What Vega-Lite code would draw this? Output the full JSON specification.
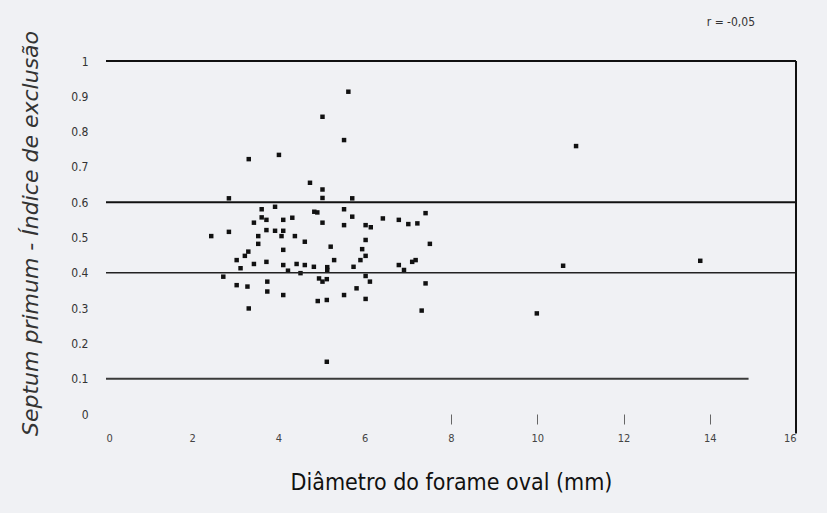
{
  "$schema": "https://vega.github.io/schema/vega-lite/v6.json",
  "autosize": "none",
  "width": 690,
  "height": 353,
  "padding": {"left": 106, "top": 61, "right": 31, "bottom": 99},
  "background": "#f0f1f4",
  "config": {
    "view": {"stroke": null},
    "font": "DejaVu Sans Condensed, Liberation Sans Narrow, Roboto, sans-serif"
  },
  "datasets": {
    "points": [
      {"d": 5.62, "i": 0.913}, {"d": 5.02, "i": 0.842}, {"d": 5.52, "i": 0.776}, {"d": 3.31, "i": 0.722},
      {"d": 4.01, "i": 0.734}, {"d": 4.73, "i": 0.655}, {"d": 5.02, "i": 0.636}, {"d": 2.85, "i": 0.611},
      {"d": 5.71, "i": 0.611}, {"d": 5.02, "i": 0.612}, {"d": 3.61, "i": 0.58}, {"d": 3.92, "i": 0.587},
      {"d": 4.83, "i": 0.573}, {"d": 4.9, "i": 0.571}, {"d": 5.52, "i": 0.58}, {"d": 5.71, "i": 0.559},
      {"d": 3.61, "i": 0.557}, {"d": 3.72, "i": 0.55}, {"d": 3.43, "i": 0.542}, {"d": 4.11, "i": 0.55},
      {"d": 4.32, "i": 0.556}, {"d": 5.02, "i": 0.542}, {"d": 5.52, "i": 0.535}, {"d": 6.02, "i": 0.535},
      {"d": 6.14, "i": 0.529}, {"d": 6.42, "i": 0.554}, {"d": 6.79, "i": 0.55}, {"d": 7.01, "i": 0.538},
      {"d": 7.22, "i": 0.54}, {"d": 7.41, "i": 0.569}, {"d": 2.44, "i": 0.504}, {"d": 2.85, "i": 0.516},
      {"d": 3.72, "i": 0.521}, {"d": 3.92, "i": 0.519}, {"d": 4.11, "i": 0.519}, {"d": 4.07, "i": 0.504},
      {"d": 4.38, "i": 0.504}, {"d": 4.61, "i": 0.488}, {"d": 3.53, "i": 0.504}, {"d": 3.53, "i": 0.482},
      {"d": 5.21, "i": 0.474}, {"d": 6.02, "i": 0.493}, {"d": 4.11, "i": 0.465}, {"d": 3.3, "i": 0.46},
      {"d": 3.22, "i": 0.448}, {"d": 3.03, "i": 0.436}, {"d": 5.29, "i": 0.436}, {"d": 5.94, "i": 0.467},
      {"d": 6.02, "i": 0.448}, {"d": 5.9, "i": 0.436}, {"d": 7.51, "i": 0.482}, {"d": 3.43, "i": 0.425},
      {"d": 3.72, "i": 0.431}, {"d": 4.11, "i": 0.422}, {"d": 4.42, "i": 0.425}, {"d": 4.61, "i": 0.422},
      {"d": 4.82, "i": 0.417}, {"d": 5.13, "i": 0.416}, {"d": 5.74, "i": 0.417}, {"d": 3.12, "i": 0.413},
      {"d": 4.22, "i": 0.406}, {"d": 4.51, "i": 0.399}, {"d": 5.13, "i": 0.408}, {"d": 6.79, "i": 0.422},
      {"d": 6.91, "i": 0.408}, {"d": 7.1, "i": 0.431}, {"d": 7.18, "i": 0.436}, {"d": 2.72, "i": 0.389},
      {"d": 3.03, "i": 0.365}, {"d": 3.28, "i": 0.361}, {"d": 3.74, "i": 0.375}, {"d": 4.94, "i": 0.384},
      {"d": 5.02, "i": 0.375}, {"d": 5.12, "i": 0.382}, {"d": 6.02, "i": 0.391}, {"d": 6.12, "i": 0.375},
      {"d": 5.81, "i": 0.356}, {"d": 7.41, "i": 0.37}, {"d": 3.74, "i": 0.347}, {"d": 4.11, "i": 0.337},
      {"d": 5.52, "i": 0.337}, {"d": 6.02, "i": 0.326}, {"d": 4.91, "i": 0.32}, {"d": 5.12, "i": 0.323},
      {"d": 3.31, "i": 0.299}, {"d": 7.32, "i": 0.293}, {"d": 5.12, "i": 0.148}, {"d": 10.9, "i": 0.759},
      {"d": 10.6, "i": 0.42}, {"d": 13.78, "i": 0.434}, {"d": 9.99, "i": 0.285}
    ],
    "hlines": [
      {"v": 1, "x0": 0, "x1": 16, "w": 2, "c": "#111111"},
      {"v": 0.6, "x0": 0, "x1": 16, "w": 2, "c": "#111111"},
      {"v": 0.4, "x0": 0, "x1": 16, "w": 1.6, "c": "#222222"},
      {"v": 0.1, "x0": 0, "x1": 14.9, "w": 2, "c": "#3a3a3a"}
    ],
    "vline": [{"x": 16, "y0": -0.055, "y1": 1}],
    "note": [{"x": 15.05, "y": 1.11, "t": "r = -0,05"}]
  },
  "layer": [
    {
      "data": {"name": "points"},
      "mark": {"type": "point", "shape": "square", "filled": true, "size": 20, "color": "#111111", "opacity": 1},
      "encoding": {
        "x": {
          "field": "d", "type": "quantitative",
          "scale": {"domain": [0, 16], "nice": false},
          "axis": {
            "title": "Diâmetro do forame oval (mm)",
            "titleFontSize": 23,
            "titleFontWeight": "normal",
            "titleColor": "#111111",
            "titlePadding": 28,
            "values": [0, 2, 4, 6, 8, 10, 12, 14, 16],
            "tickCount": 20,
            "labelOverlap": false,
            "labelFontSize": 11,
            "labelColor": "#444444",
            "labelPadding": 8,
            "tickSize": 10,
            "tickColor": "#666666",
            "tickOpacity": {"condition": {"test": "datum.value >= 8 && datum.value < 16", "value": 1}, "value": 0},
            "domain": false,
            "grid": false
          }
        },
        "y": {
          "field": "i", "type": "quantitative",
          "scale": {"domain": [0, 1], "nice": false},
          "axis": {
            "title": "Septum primum - Índice de exclusão",
            "titleFont": "DejaVu Sans, sans-serif",
            "titleFontStyle": "italic",
            "titleFontWeight": "normal",
            "titleFontSize": 22,
            "titleColor": "#333333",
            "titleX": -76,
            "titleY": 172,
            "titleAngle": -90,
            "titleAlign": "center",
            "titleBaseline": "middle",
            "values": [0, 0.1, 0.2, 0.3, 0.4, 0.5, 0.6, 0.7, 0.8, 0.9, 1],
            "tickCount": 20,
            "labelExpr": "format(datum.value, '~g')",
            "labelOverlap": false,
            "labelFontSize": 12,
            "labelColor": "#333333",
            "labelPadding": 18,
            "ticks": false,
            "domain": false,
            "grid": false
          }
        }
      }
    },
    {
      "data": {"name": "hlines"},
      "mark": {"type": "rule"},
      "encoding": {
        "x": {"field": "x0", "type": "quantitative"},
        "x2": {"field": "x1"},
        "y": {"field": "v", "type": "quantitative"},
        "strokeWidth": {"field": "w", "type": "quantitative", "scale": null},
        "color": {"field": "c", "type": "nominal", "scale": null}
      }
    },
    {
      "data": {"name": "vline"},
      "mark": {"type": "rule", "color": "#111111", "strokeWidth": 2},
      "encoding": {
        "x": {"field": "x", "type": "quantitative"},
        "y": {"field": "y0", "type": "quantitative"},
        "y2": {"field": "y1"}
      }
    },
    {
      "data": {"name": "note"},
      "mark": {"type": "text", "align": "right", "baseline": "middle", "fontSize": 12, "color": "#333333"},
      "encoding": {
        "x": {"field": "x", "type": "quantitative"},
        "y": {"field": "y", "type": "quantitative"},
        "text": {"field": "t"}
      }
    }
  ]
}
